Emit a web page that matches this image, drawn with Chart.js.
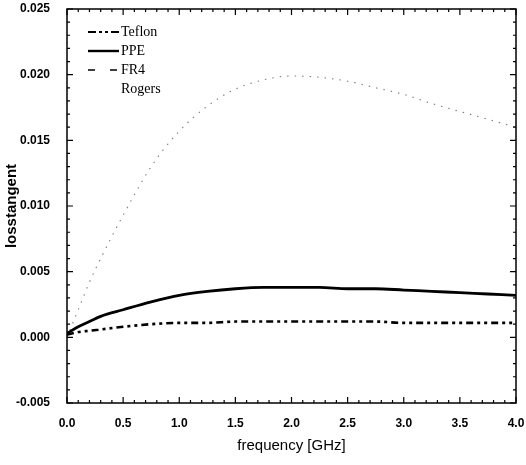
<!DOCTYPE html>
<html>
<head>
<meta charset="utf-8">
<script src="https://cdn.jsdelivr.net/npm/chart.js@4.4.1/dist/chart.umd.min.js"></script>
<style>
  html, body { margin: 0; padding: 0; background: #fff; }
  #wrap { width: 526px; height: 465px; }
</style>
</head>
<body>
<div id="wrap"><canvas id="graph" width="526" height="465"></canvas></div>
<script>
// frequency in GHz
const freq = [0, 0.1, 0.2, 0.3, 0.5, 0.75, 1.0, 1.25, 1.5, 1.75, 2.0, 2.25, 2.5, 2.75, 3.0, 3.25, 3.5, 3.75, 4.0];

const teflon = [0.0002, 0.0004, 0.0005, 0.0006, 0.0008, 0.0010, 0.0011, 0.0011, 0.0012, 0.0012, 0.0012, 0.0012, 0.0012, 0.0012, 0.0011, 0.0011, 0.0011, 0.0011, 0.0011];
const ppe = [0.0003, 0.0008, 0.0012, 0.0016, 0.0021, 0.0027, 0.0032, 0.0035, 0.0037, 0.0038, 0.0038, 0.0038, 0.0037, 0.0037, 0.0036, 0.0035, 0.0034, 0.0033, 0.0032];
const fr4 = [0.0000, 0.0021, 0.0042, 0.0060, 0.0093, 0.0130, 0.0157, 0.0176, 0.0189, 0.0196, 0.0199, 0.0198, 0.0195, 0.0190, 0.0185, 0.0178, 0.0172, 0.0166, 0.0160];
const rogers = []; // no visible curve in the figure

const xTicks = [0, 0.5, 1.0, 1.5, 2.0, 2.5, 3.0, 3.5, 4.0];
const yTicks = [-0.005, 0, 0.005, 0.010, 0.015, 0.020, 0.025];

function pts(vals) {
  return vals.map((v, i) => ({ x: freq[i], y: v }));
}

// ticks pointing inwards on all four sides, plus the frame
const frameTicks = {
  id: 'frameTicks',
  afterDatasetsDraw(chart) {
    const { ctx, chartArea: a, scales } = chart;
    const xs = scales.x, ys = scales.y;
    ctx.save();
    ctx.strokeStyle = '#000';
    ctx.lineWidth = 1.5;
    ctx.strokeRect(a.left, a.top, a.right - a.left, a.bottom - a.top);
    ctx.lineWidth = 1.2;
    ctx.beginPath();
    for (let i = 0; i <= 40; i++) {
      const px = xs.getPixelForValue(i / 10);
      const len = i % 5 === 0 ? 6 : 3;
      ctx.moveTo(px, a.bottom); ctx.lineTo(px, a.bottom - len);
      ctx.moveTo(px, a.top); ctx.lineTo(px, a.top + len);
    }
    for (let i = -5; i <= 25; i++) {
      const py = ys.getPixelForValue(i / 1000);
      const len = i % 5 === 0 ? 6 : 3;
      ctx.moveTo(a.left, py); ctx.lineTo(a.left + len, py);
      ctx.moveTo(a.right, py); ctx.lineTo(a.right - len, py);
    }
    ctx.stroke();
    ctx.restore();
  }
};

// legend drawn inside the plot, top left
const innerLegend = {
  id: 'innerLegend',
  afterDraw(chart) {
    const { ctx, chartArea: a } = chart;
    ctx.save();
    ctx.font = '14px "Liberation Serif", serif';
    ctx.textBaseline = 'middle';
    ctx.fillStyle = '#000';
    chart.data.datasets.forEach((ds, i) => {
      const y = a.top + 23 + i * 19;
      const x0 = a.left + 21, x1 = a.left + 52;
      ctx.strokeStyle = ds.legendColor;
      ctx.lineWidth = ds.legendWidth;
      ctx.setLineDash(ds.legendDash);
      ctx.beginPath();
      ctx.moveTo(x0, y); ctx.lineTo(x1, y);
      ctx.stroke();
      ctx.fillText(ds.label, x1 + 2, y);
    });
    ctx.restore();
  }
};

const ctx = document.getElementById('graph').getContext('2d');
const myChart = new Chart(ctx, {
  type: 'line',
  data: {
    datasets: [
      {
        label: 'Teflon',
        data: pts(teflon),
        borderColor: '#000',
        borderWidth: 2.6,
        borderDash: [7, 4, 3, 4, 3, 4],
        legendColor: '#000', legendWidth: 2.2, legendDash: [8, 3, 3, 3, 3, 3],
      },
      {
        label: 'PPE',
        data: pts(ppe),
        borderColor: '#000',
        borderWidth: 2.8,
        borderDash: [],
        legendColor: '#000', legendWidth: 2.4, legendDash: [],
      },
      {
        label: 'FR4',
        data: pts(fr4),
        borderColor: '#808080',
        borderWidth: 1.1,
        borderDash: [1.5, 6],
        legendColor: '#000', legendWidth: 1.5, legendDash: [7, 15],
      },
      {
        label: 'Rogers',
        data: pts(rogers),
        borderColor: 'rgba(0,0,0,0)',
        borderWidth: 1,
        legendColor: 'rgba(0,0,0,0)', legendWidth: 1, legendDash: [],
      },
    ],
  },
  options: {
    responsive: false,
    animation: false,
    devicePixelRatio: 1,
    layout: { padding: { top: 9, right: 10, left: 0, bottom: 0 } },
    elements: {
      point: { radius: 0 },
      line: { tension: 0.4, cubicInterpolationMode: 'monotone', fill: false },
    },
    plugins: {
      legend: { display: false },
      tooltip: { enabled: false },
    },
    scales: {
      x: {
        type: 'linear',
        min: 0,
        max: 4,
        afterFit(scale) {
          scale.height = 62;
          scale.paddingLeft = 0;
          scale.paddingRight = 0;
        },
        afterBuildTicks(scale) { scale.ticks = xTicks.map(v => ({ value: v })); },
        grid: { display: false },
        border: { display: false },
        ticks: {
          padding: 5,
          color: '#000',
          font: { family: '"Liberation Sans", Arial, sans-serif', size: 12, weight: 'bold' },
          maxRotation: 0,
          callback: (v) => Number(v).toFixed(1),
        },
        title: {
          display: true,
          text: 'frequency [GHz]',
          color: '#000',
          font: { family: '"Liberation Sans", Arial, sans-serif', size: 15, weight: '500' },
          padding: { top: 0, bottom: 10 },
        },
      },
      y: {
        type: 'linear',
        min: -0.005,
        max: 0.025,
        afterFit(scale) {
          scale.width = 67;
          scale.paddingTop = 0;
          scale.paddingBottom = 0;
        },
        afterBuildTicks(scale) { scale.ticks = yTicks.map(v => ({ value: v })); },
        grid: { display: false },
        border: { display: false },
        ticks: {
          padding: 9,
          color: '#000',
          font: { family: '"Liberation Sans", Arial, sans-serif', size: 12, weight: 'bold' },
          callback: (v) => Number(v).toFixed(3),
        },
        title: {
          display: true,
          text: 'losstangent',
          color: '#000',
          font: { family: '"Liberation Sans", Arial, sans-serif', size: 15, weight: 'bold' },
          padding: { top: 3, bottom: 0 },
        },
      },
    },
  },
  plugins: [frameTicks, innerLegend],
});
</script>
</body>
</html>
